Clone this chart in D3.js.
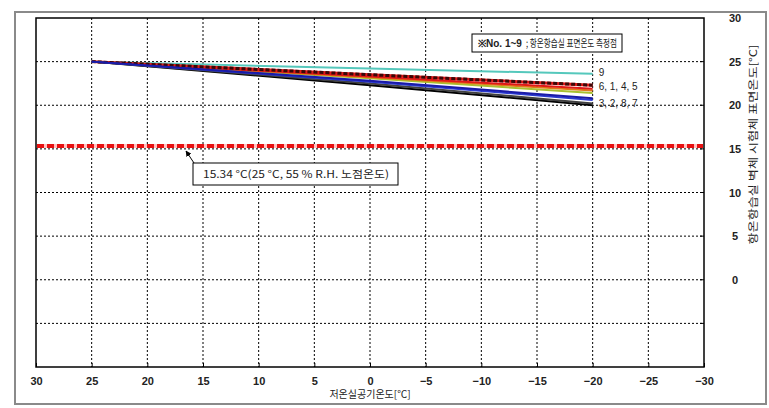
<!DOCTYPE html>
<html><head><meta charset="utf-8">
<script src="https://cdn.jsdelivr.net/npm/d3@7"></script>
<style>
body{margin:0;background:#fff;}
svg{display:block;}
text{font-family:"Liberation Sans",Arial,sans-serif;}
.kr{font-family:"Noto Sans CJK KR","Noto Sans",sans-serif;}
</style></head>
<body>
<svg id="c" width="769" height="408"></svg>
<script>
const xTicks = [30,25,20,15,10,5,0,-5,-10,-15,-20,-25,-30];
const yTicks = [30,25,20,15,10,5,0];
const yGrid = [25,20,15,10,5,0,-5];
const outdoorTemps = [25, 0, -20];
const seriesNames = ["9","6","1","4","5","3","2","8","7"];
const seriesColors = ["#55c8bc","#6a1010","#e01818","#e07818","#a8c030","#1a1aa8","#2a3ad0","#404040","#000000"];
const seriesValues = [
  [25, 24.2, 23.6],
  [25, 23.5, 22.3],
  [25, 23.3, 21.9],
  [25, 23.2, 21.7],
  [25, 23.1, 21.4],
  [25, 22.8, 20.8],
  [25, 22.7, 20.6],
  [25, 22.5, 20.2],
  [25, 22.3, 20.0]
];
const dewPoint = 15.34;
const groupLabels = ["9","6, 1, 4, 5","3, 2, 8, 7"];
const groupLabelValues = [23.6, 22.2, 20.6];
const legendBold = "※No. 1~9";
const legendRest = "; 항온항습실 표면온도 측정점";
const annotText = "15.34 °C(25 °C, 55 % R.H. 노점온도)";
const xTitle = "저온실공기온도[℃]";
const yTitle = "항온항습실 벽체 시험체 표면온도[℃]";

const svg = d3.select("#c");
const L=36, R=704, T=18, B=367;
const x = d3.scaleLinear().domain([30,-30]).range([L,R]);
const y = d3.scaleLinear().domain([-10,30]).range([B,T]);

// outer frame
svg.append("rect").attr("x",15).attr("y",12).attr("width",751).attr("height",392)
  .attr("fill","none").attr("stroke","#8a8a8a").attr("stroke-width",2);

// grid
svg.append("g").selectAll("line").data(xTicks.filter(d=>d<30&&d>-30)).join("line")
  .attr("x1",d=>x(d)).attr("x2",d=>x(d)).attr("y1",T).attr("y2",B)
  .attr("stroke","#000").attr("stroke-width",1).attr("stroke-dasharray","2,2");
svg.append("g").selectAll("line").data(yGrid).join("line")
  .attr("x1",L).attr("x2",R).attr("y1",d=>y(d)).attr("y2",d=>y(d))
  .attr("stroke","#000").attr("stroke-width",1).attr("stroke-dasharray","2,2");

// axes
const xa = svg.append("g").attr("transform",`translate(0,${B})`)
  .call(d3.axisBottom(x).tickValues(xTicks).tickSize(-4).tickPadding(10).tickFormat(d3.format("d")));
xa.select(".domain").remove();
xa.selectAll("text").attr("font-size",11).attr("font-weight","bold").attr("fill","#222");
const ya = svg.append("g").attr("transform",`translate(${R},0)`)
  .call(d3.axisRight(y).tickValues(yTicks).tickSize(0).tickPadding(0).tickFormat(d3.format("d")));
ya.select(".domain").remove();
ya.selectAll("text").attr("x",31).attr("text-anchor","middle").attr("font-size",11).attr("font-weight","bold").attr("fill","#222");
svg.append("g").selectAll("line").data(yGrid).join("line")
  .attr("x1",R-4).attr("x2",R).attr("y1",d=>y(d)).attr("y2",d=>y(d)).attr("stroke","#000");

// plot border
svg.append("rect").attr("x",L).attr("y",T).attr("width",R-L).attr("height",B-T)
  .attr("fill","none").attr("stroke","#000").attr("stroke-width",1.5);

// dew point line
svg.append("line").attr("x1",L+1).attr("x2",R-1).attr("y1",y(dewPoint)).attr("y2",y(dewPoint))
  .attr("stroke","#ffc0c0").attr("stroke-width",4);
svg.append("line").attr("x1",L+1).attr("x2",R-1).attr("y1",y(dewPoint)).attr("y2",y(dewPoint))
  .attr("stroke","#e81010").attr("stroke-width",4).attr("stroke-dasharray","7,3");

// series lines
const line = d3.line().x((d,i)=>x(outdoorTemps[i])).y(d=>y(d));
const order = [0,4,3,2,1,8,7,6,5];
order.forEach(k=>{
  const p = svg.append("path").datum(seriesValues[k]).attr("d",line)
    .attr("fill","none").attr("stroke",seriesColors[k]).attr("stroke-width",k===1?3:2);
  if(k===1){
    p.attr("stroke","#e01818");
    svg.append("path").datum(seriesValues[k]).attr("d",line)
      .attr("fill","none").attr("stroke","#3a0808").attr("stroke-width",3).attr("stroke-dasharray","4,2");
  }
});

// group labels
svg.append("g").selectAll("text").data(groupLabels).join("text")
  .attr("x",x(-20)+6).attr("y",(d,i)=>y(groupLabelValues[i])+[2,4,7][i])
  .attr("font-size",10).attr("fill","#222").text(d=>d);

// legend box
svg.append("rect").attr("x",472).attr("y",34).attr("width",150).attr("height",18)
  .attr("fill","#fff").attr("stroke","#000").attr("stroke-width",1);
svg.append("text").attr("x",478).attr("y",47).attr("font-size",10).attr("font-weight","bold")
  .attr("fill","#222").text(legendBold);
svg.append("text").attr("class","kr").attr("x",526).attr("y",47).attr("font-size",10)
  .attr("fill","#222").attr("textLength",91).attr("lengthAdjust","spacingAndGlyphs").text(legendRest);

// annotation
svg.append("defs").append("marker").attr("id","ah").attr("viewBox","0 0 10 10").attr("refX",9).attr("refY",5)
  .attr("markerWidth",6).attr("markerHeight",6).attr("orient","auto")
  .append("path").attr("d","M0,0L10,5L0,10z").attr("fill","#000");
svg.append("line").attr("x1",194).attr("y1",163).attr("x2",186).attr("y2",151)
  .attr("stroke","#000").attr("stroke-width",1).attr("marker-end","url(#ah)");
svg.append("rect").attr("x",193).attr("y",163).attr("width",205).attr("height",22)
  .attr("fill","#fff").attr("stroke","#000").attr("stroke-width",1);
svg.append("text").attr("class","kr").attr("x",203).attr("y",178).attr("font-size",10.5)
  .attr("fill","#222").attr("textLength",186).attr("lengthAdjust","spacingAndGlyphs").text(annotText);

// titles
svg.append("text").attr("class","kr").attr("x",x(0)).attr("y",398).attr("text-anchor","middle")
  .attr("font-size",10).attr("fill","#222").text(xTitle);
svg.append("text").attr("class","kr").attr("transform",`translate(757,${y(15.5)}) rotate(-90)`)
  .attr("text-anchor","middle").attr("font-size",10).attr("fill","#222")
  .attr("textLength",200).attr("lengthAdjust","spacingAndGlyphs").text(yTitle);
</script>
</body></html>
